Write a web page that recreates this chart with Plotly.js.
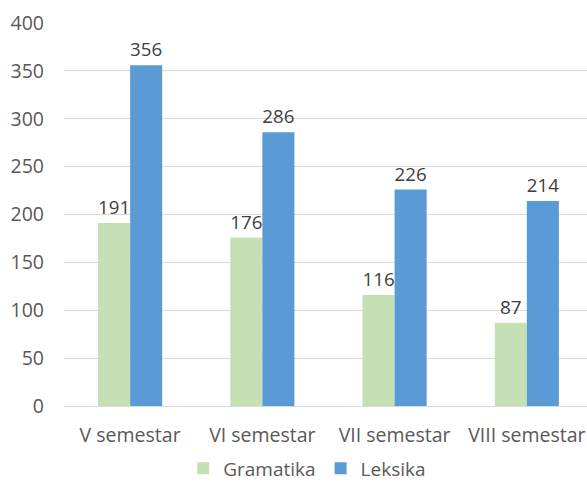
<!DOCTYPE html>
<html>
<head>
<meta charset="utf-8">
<script src="https://cdn.plot.ly/plotly-3.0.1.min.js"></script>
<style>html,body{margin:0;padding:0;background:#fff;}#chart{width:587px;height:483px;}</style>
</head>
<body>
<div id="chart"></div>
<script>
const categories = ["V semestar", "VI semestar", "VII semestar", "VIII semestar"];
const gramatika = [191, 176, 116, 87];
const leksika = [356, 286, 226, 214];
const yTicks = [0, 50, 100, 150, 200, 250, 300, 350, 400];

const fam = "Open Sans, sans-serif";
const font = {family: fam, size: 19.5, color: "#595959"};

const traces = [
  {type: "bar", name: "Gramatika", x: categories, y: gramatika,
   marker: {color: "#c5e0b4"}, text: gramatika.map(String), textposition: "outside",
   textfont: {family: fam, size: 19, color: "#404040"}, cliponaxis: false, hoverinfo: "none"},
  {type: "bar", name: "Leksika", x: categories, y: leksika,
   marker: {color: "#5b9bd5"}, text: leksika.map(String), textposition: "outside",
   textfont: {family: fam, size: 19, color: "#404040"}, cliponaxis: false, hoverinfo: "none"}
];

const layout = {
  width: 587, height: 483,
  margin: {l: 64, r: 0, t: 23, b: 77, autoexpand: false},
  paper_bgcolor: "#ffffff", plot_bgcolor: "#ffffff",
  font: font,
  barmode: "group", bargap: 0.515, bargroupgap: 0,
  showlegend: true,
  legend: {orientation: "h", x: 0.465, xanchor: "center", y: -0.163, yanchor: "middle",
           font: {family: fam, size: 19, color: "#595959"}, itemwidth: 30, traceorder: "normal"},
  xaxis: {type: "category", range: [-0.5, 3.455], showgrid: false, zeroline: false,
          showline: false, ticks: "", ticklabelstandoff: 15, tickfont: font, fixedrange: true},
  yaxis: {range: [0, 400], tickvals: yTicks, ticktext: yTicks.map(String),
          showgrid: true, gridcolor: "#d9d9d9", gridwidth: 1, zeroline: true, zerolinecolor: "#d9d9d9",
          showline: false, ticks: "", ticklabelstandoff: 19, tickfont: font, fixedrange: true}
};

Plotly.newPlot("chart", traces, layout, {displayModeBar: false, staticPlot: true});
</script>
</body>
</html>
